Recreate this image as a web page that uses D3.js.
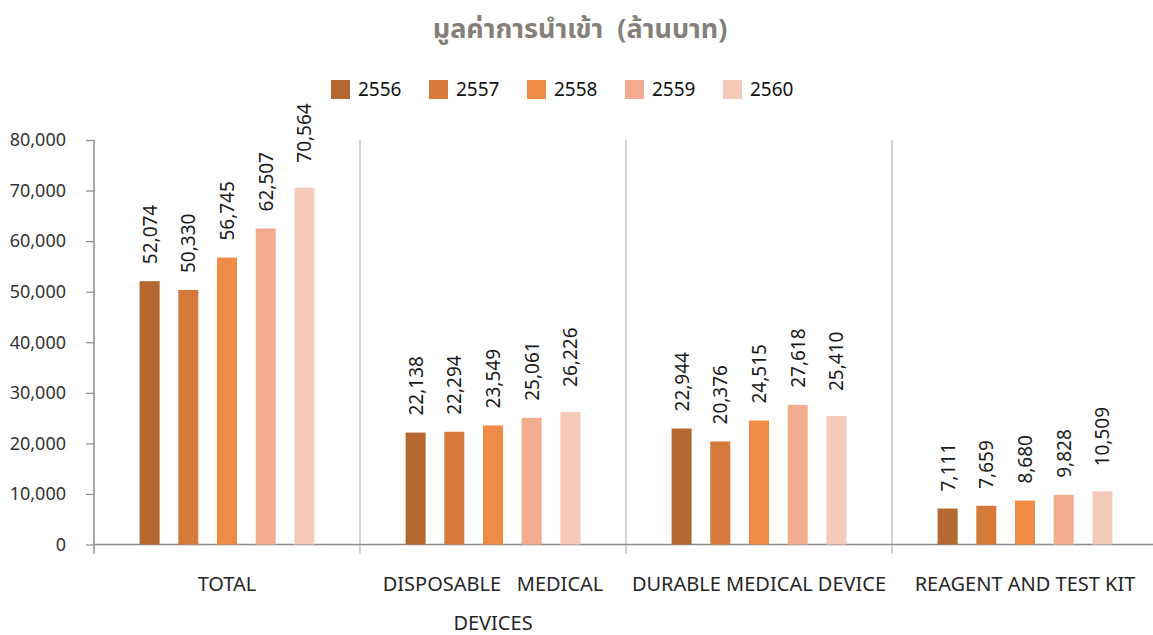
<!DOCTYPE html>
<html>
<head>
<meta charset="utf-8">
<script src="https://cdn.jsdelivr.net/npm/d3@7"></script>
<style>
    body { margin: 0; background: #fff; }
    .chart text { font-family: "Noto Sans", "Noto Sans Thai", "DejaVu Sans", sans-serif; }
</style>
</head>
<body>
<div class="chart"></div>
<script>
// data
const categories = ["TOTAL", "DISPOSABLE MEDICAL DEVICES", "DURABLE MEDICAL DEVICE", "REAGENT AND TEST KIT"];
const years = ["2556", "2557", "2558", "2559", "2560"];
const values2556 = [52074, 22138, 22944, 7111];
const values2557 = [50330, 22294, 20376, 7659];
const values2558 = [56745, 23549, 24515, 8680];
const values2559 = [62507, 25061, 27618, 9828];
const values2560 = [70564, 26226, 25410, 10509];
const yTicks = [0, 10000, 20000, 30000, 40000, 50000, 60000, 70000, 80000];
const titleText = "มูลค่าการนำเข้า  (ล้านบาท)";

const seriesValues = [values2556, values2557, values2558, values2559, values2560];
const COLORS = ["#b4672f", "#d57a3a", "#ef8b45", "#f3ad8e", "#f6cab9"];

const width = 1153, height = 635;
const svg = d3.select(".chart").append("svg")
    .attr("width", width).attr("height", height);

let plotLeft = 94, plotRight = 1158, plotTop = 140, plotBottom = 544.5;

let x0 = d3.scaleBand().domain(categories).range([plotLeft, plotRight]).padding(0);
let x1 = d3.scaleBand().domain(years).range([0, x0.bandwidth()])
    .paddingInner(0.483).paddingOuter(1.178);
let y = d3.scaleLinear().domain([0, 80000]).range([plotBottom, plotTop]);

// title
svg.append("text")
    .attr("x", 580).attr("y", 38)
    .attr("text-anchor", "middle")
    .attr("font-size", "27px").attr("font-weight", "bold")
    .attr("fill", "#857f79")
    .style("white-space", "pre")
    .text(titleText);

// legend
let legend = svg.append("g").selectAll("g")
    .data(years)
    .enter().append("g")
    .attr("transform", (d, i) => "translate(" + (331 + i * 98) + ",80)");
legend.append("rect")
    .attr("width", 19).attr("height", 19)
    .attr("fill", (d, i) => COLORS[i]);
legend.append("text")
    .attr("x", 27).attr("y", 16)
    .attr("font-size", "19px").attr("fill", "#111")
    .text(d => d);

// y axis
let yAxis = svg.append("g")
    .attr("transform", "translate(" + plotLeft + ",0)")
    .call(d3.axisLeft(y).tickValues(yTicks).tickSize(8).tickPadding(20)
        .tickFormat(d3.format(",")));
yAxis.select(".domain").remove();
yAxis.selectAll(".tick line").attr("stroke", "#8c8c8c").attr("stroke-width", 1.2);
yAxis.selectAll(".tick text")
    .attr("font-size", "18px").attr("fill", "#333")
    .attr("font-family", "\"Noto Sans\", sans-serif");

// separators (y axis line + category dividers)
let sepX = [plotLeft].concat(categories.map(c => x0(c) + x0.bandwidth()));
svg.append("g").selectAll("line")
    .data(sepX)
    .enter().append("line")
    .attr("x1", d => d).attr("x2", d => d)
    .attr("y1", plotTop).attr("y2", plotBottom + 9)
    .attr("stroke", (d, i) => i === 0 ? "#8c8c8c" : "#b5b5b5")
    .attr("stroke-width", (d, i) => i === 0 ? 1.5 : 1.2);

// baseline
svg.append("line")
    .attr("x1", plotLeft).attr("x2", width)
    .attr("y1", plotBottom).attr("y2", plotBottom)
    .attr("stroke", "#8c8c8c").attr("stroke-width", 1.5);

// bars
let rows = [];
categories.forEach((c, ci) => {
    years.forEach((yr, si) => {
        rows.push({cat: c, year: yr, si: si, value: seriesValues[si][ci]});
    });
});

let bars = svg.append("g");
bars.selectAll("rect")
    .data(rows)
    .enter().append("rect")
    .attr("x", d => x0(d.cat) + x1(d.year))
    .attr("y", d => y(d.value))
    .attr("width", x1.bandwidth())
    .attr("height", d => y(0) - y(d.value))
    .attr("fill", d => COLORS[d.si]);

// value labels (rotated)
bars.selectAll("text")
    .data(rows)
    .enter().append("text")
    .attr("transform", d => {
        let cx = x0(d.cat) + x1(d.year) + x1.bandwidth() / 2 + 7;
        let gap = d.si === 4 ? 25 : 17;
        return "translate(" + cx + "," + (y(d.value) - gap) + ") rotate(-90)";
    })
    .attr("font-size", "19px").attr("fill", "#1a1a1a")
    .text(d => d3.format(",")(d.value));

// category labels
let catLabels = svg.append("g");
catLabels.selectAll("text")
    .data(categories)
    .enter().append("text")
    .attr("x", d => x0(d) + x0.bandwidth() / 2)
    .attr("y", 591)
    .attr("text-anchor", "middle")
    .attr("font-size", "20px").attr("fill", "#262626")
    .style("white-space", "pre")
    .each(function (d) {
        let t = d3.select(this);
        if (d === "DISPOSABLE MEDICAL DEVICES") {
            t.text("DISPOSABLE   MEDICAL");
            catLabels.append("text")
                .attr("x", x0(d) + x0.bandwidth() / 2)
                .attr("y", 630)
                .attr("text-anchor", "middle")
                .attr("font-size", "20px").attr("fill", "#262626")
                .text("DEVICES");
        } else {
            t.text(d);
        }
    });
</script>
</body>
</html>
